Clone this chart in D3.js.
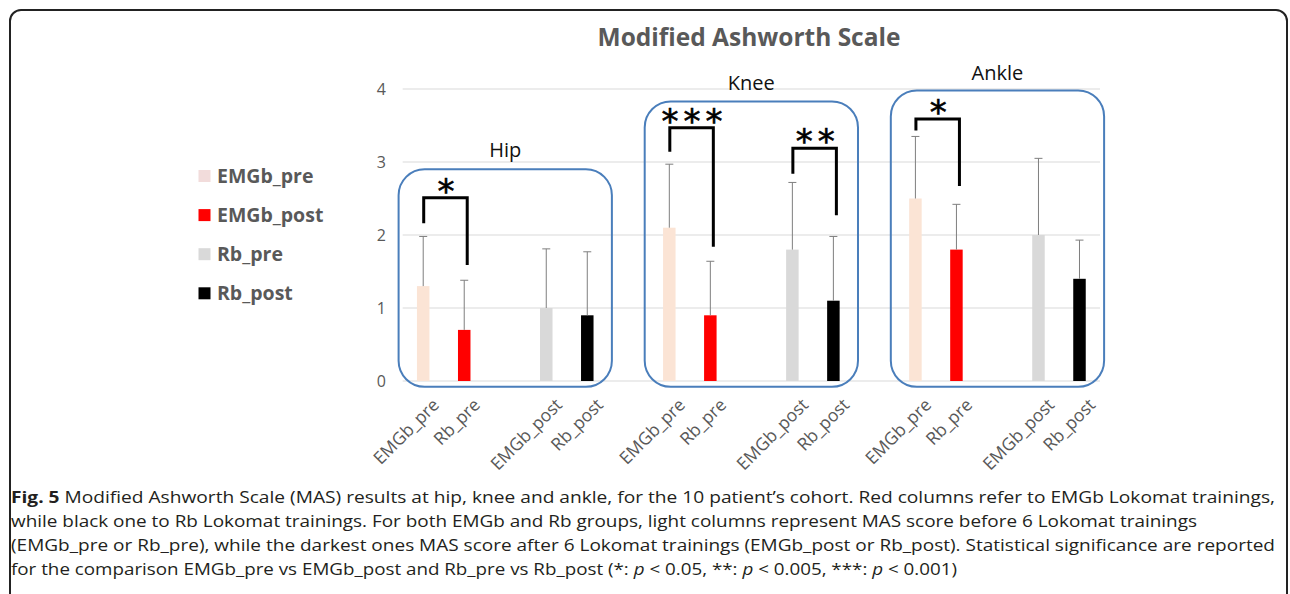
<!DOCTYPE html>
<html><head><meta charset="utf-8">
<script src="https://cdn.jsdelivr.net/npm/d3@7/dist/d3.min.js"></script>
<style>
html,body{margin:0;padding:0;background:#fff;}
svg{display:block;}
</style></head>
<body>
<svg id="chart" width="1290" height="594"></svg>
<script>
// ---------- data ----------
const joints = ["Hip", "Knee", "Ankle"];
const tickLabels = ["EMGb_pre", "Rb_pre", "EMGb_post", "Rb_post"];
const seriesNames = ["EMGb_pre", "EMGb_post", "Rb_pre", "Rb_post"];
const emgbPre  = [1.3, 2.1, 2.5];
const emgbPost = [0.7, 0.9, 1.8];
const rbPre    = [1.0, 1.8, 2.0];
const rbPost   = [0.9, 1.1, 1.4];
const errEmgbPre  = [0.68, 0.87, 0.85];
const errEmgbPost = [0.68, 0.74, 0.62];
const errRbPre    = [0.81, 0.92, 1.05];
const errRbPost   = [0.87, 0.88, 0.53];
const yTicks = [0, 1, 2, 3, 4];
const boxTop = [2.9, 3.83, 3.98];
// significance brackets
const sigJoint  = [0, 1, 1, 2];
const sigFrom   = [0, 0, 2, 0];
const sigTo     = [1, 1, 3, 1];
const sigStars  = ["*", "***", "**", "*"];
const sigTop    = [2.51, 3.47, 3.19, 3.59];
const sigLeftY  = [2.16, 3.14, 2.84, 3.43];
const sigRightY = [1.59, 1.84, 2.27, 2.67];
const caption = [
  [["b","Fig. 5"],["n"," Modified Ashworth Scale (MAS) results at hip, knee and ankle, for the 10 patient\u2019s cohort. Red columns refer to EMGb Lokomat trainings,"]],
  [["n","while black one to Rb Lokomat trainings. For both EMGb and Rb groups, light columns represent MAS score before 6 Lokomat trainings"]],
  [["n","(EMGb_pre or Rb_pre), while the darkest ones MAS score after 6 Lokomat trainings (EMGb_post or Rb_post). Statistical significance are reported"]],
  [["n","for the comparison EMGb_pre vs EMGb_post and Rb_pre vs Rb_post (*: "],["i","p"],["n"," < 0.05, **: "],["i","p"],["n"," < 0.005, ***: "],["i","p"],["n"," < 0.001)"]]
];
const captionWidths = [1264, 1186, 1264, 946];

const seriesValues = [emgbPre, emgbPost, rbPre, rbPost];
const seriesErr = [errEmgbPre, errEmgbPost, errRbPre, errRbPost];
const colors = ["#FBE4D5", "#FF0000", "#D9D9D9", "#000000"];
const legendColors = ["#F2DCDB", "#FF0000", "#D9D9D9", "#000000"];
const slotOffsets = [0, 1, 3, 4];

// ---------- drawing ----------
const svg = d3.select("#chart");
const font = "'Open Sans', 'Noto Sans', sans-serif";
const gray = "#595959";

// outer frame
svg.append("rect").attr("x", 10).attr("y", 10).attr("width", 1277).attr("height", 620)
  .attr("rx", 11).attr("fill", "none").attr("stroke", "#222").attr("stroke-width", 2);

const x = d3.scalePoint().domain(d3.range(17)).range([402.7, 1100]).padding(0.5);
const step = x.step();
const y = d3.scaleLinear().domain([0, 4]).range([381, 89]);
const barW = 12.5;

// gridlines
svg.append("g").selectAll("line").data(yTicks).join("line")
  .attr("x1", 402.7).attr("x2", 1100)
  .attr("y1", d => y(d)).attr("y2", d => y(d))
  .attr("stroke", "#D9D9D9").attr("stroke-width", 1);

// y axis labels
const yAxis = d3.axisLeft(y).tickValues(yTicks).tickSize(0).tickPadding(0).tickFormat(d3.format("d"));
const ya = svg.append("g").attr("transform", "translate(386,0)").call(yAxis);
ya.select(".domain").remove();
ya.selectAll("text").attr("font-family", font).attr("font-size", 16).attr("fill", gray);

// title
svg.append("text").attr("x", 749).attr("y", 46).attr("text-anchor", "middle")
  .attr("font-family", font).attr("font-weight", "bold").attr("font-size", 24.5)
  .attr("fill", gray).text("Modified Ashworth Scale");

// bars
const bars = [];
joints.forEach((j, ji) => {
  seriesNames.forEach((s, si) => {
    bars.push({ji, si, slot: ji * 6 + slotOffsets[si], v: seriesValues[si][ji], e: seriesErr[si][ji]});
  });
});
svg.append("g").selectAll("rect").data(bars).join("rect")
  .attr("x", d => x(d.slot) - barW / 2).attr("width", barW)
  .attr("y", d => y(d.v)).attr("height", d => y(0) - y(d.v))
  .attr("fill", d => colors[d.si]);

// error bars (upper)
const eg = svg.append("g").attr("stroke", "#7F7F7F").attr("stroke-width", 1);
eg.selectAll("line.v").data(bars).join("line").attr("class", "v")
  .attr("x1", d => x(d.slot)).attr("x2", d => x(d.slot))
  .attr("y1", d => y(d.v)).attr("y2", d => y(d.v + d.e));
eg.selectAll("line.c").data(bars).join("line").attr("class", "c")
  .attr("x1", d => x(d.slot) - 4).attr("x2", d => x(d.slot) + 4)
  .attr("y1", d => y(d.v + d.e)).attr("y2", d => y(d.v + d.e));

// x labels
const xl = [];
joints.forEach((j, ji) => tickLabels.forEach((t, ti) => xl.push({slot: ji * 6 + slotOffsets[ti], t})));
svg.append("g").selectAll("text").data(xl).join("text")
  .attr("transform", d => `translate(${x(d.slot) + 17},${406}) rotate(-45)`)
  .attr("text-anchor", "end").attr("font-family", font).attr("font-size", 17.5)
  .attr("fill", gray).text(d => d.t);

// group boxes
const boxPad = step * 0.6;
svg.append("g").selectAll("rect").data(joints).join("rect")
  .attr("x", (d, i) => x(i * 6) - boxPad)
  .attr("width", (d, i) => x(i * 6 + 4) - x(i * 6) + 2 * boxPad)
  .attr("y", (d, i) => y(boxTop[i]))
  .attr("height", (d, i) => y(-0.08) - y(boxTop[i]))
  .attr("rx", 26).attr("fill", "none").attr("stroke", "#4A7EBB").attr("stroke-width", 2);

// group labels
const labelY = [3.07, 3.99, 4.13];
svg.append("g").selectAll("text").data(joints).join("text")
  .attr("x", (d, i) => (x(i * 6) + x(i * 6 + 4)) / 2)
  .attr("y", (d, i) => y(labelY[i]))
  .attr("text-anchor", "middle").attr("font-family", font).attr("font-size", 20)
  .attr("fill", "#111").text(d => d);

// significance brackets
const sg = svg.append("g");
sigJoint.forEach((ji, k) => {
  const xa = x(ji * 6 + slotOffsets[sigFrom[k]]) + 0.5;
  const xb = x(ji * 6 + slotOffsets[sigTo[k]]) + 3;
  sg.append("path")
    .attr("d", `M${xa},${y(sigLeftY[k])}V${y(sigTop[k])}H${xb}V${y(sigRightY[k])}`)
    .attr("fill", "none").attr("stroke", "#000").attr("stroke-width", 3);
  sg.append("text").attr("x", (xa + xb) / 2 + 3).attr("y", y(sigTop[k]) + 5)
    .attr("text-anchor", "middle").attr("font-family", "'DejaVu Sans', sans-serif")
    .attr("font-size", 34).attr("letter-spacing", 5)
    .attr("stroke", "#000").attr("stroke-width", 0.6)
    .attr("fill", "#000").text(sigStars[k]);
});

// legend
const lg = svg.append("g");
seriesNames.forEach((s, i) => {
  const cy = 176 + i * 39.1;
  lg.append("rect").attr("x", 198.5).attr("y", cy - 6).attr("width", 12).attr("height", 12).attr("fill", legendColors[i]);
  lg.append("text").attr("x", 217).attr("y", cy + 7).attr("font-family", font)
    .attr("font-weight", "bold").attr("font-size", 19.5).attr("fill", gray).text(s);
});

// caption
const cg = svg.append("g");
caption.forEach((line, li) => {
  const t = cg.append("text").attr("x", 11).attr("y", 503 + li * 24)
    .attr("font-family", font).attr("font-size", 16.5).attr("fill", "#231F20")
    .attr("textLength", captionWidths[li]).attr("lengthAdjust", "spacingAndGlyphs");
  line.forEach(([st, txt]) => {
    const ts = t.append("tspan").text(txt);
    if (st === "b") ts.attr("font-weight", "bold");
    if (st === "i") ts.attr("font-style", "italic");
  });
});
</script>
</body></html>
